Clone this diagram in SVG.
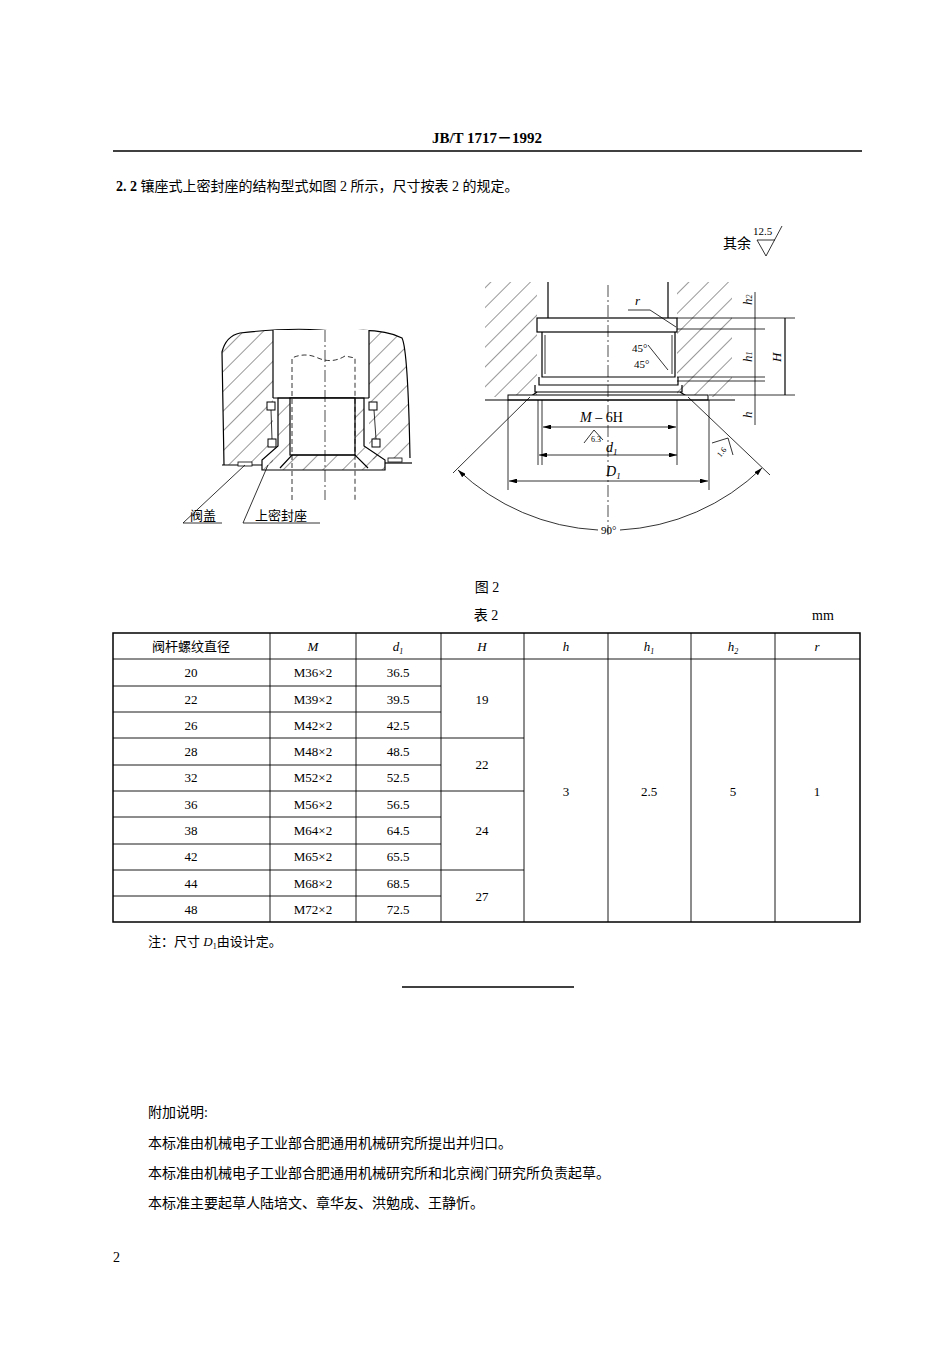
<svg xmlns="http://www.w3.org/2000/svg" width="950" height="1345" viewBox="0 0 950 1345">
<defs>
<pattern id="hatch" patternUnits="userSpaceOnUse" width="14" height="14" patternTransform="rotate(45)">
<line x1="0" y1="0" x2="0" y2="14" stroke="#000" stroke-width="0.8"/>
</pattern>
<marker id="ar" viewBox="0 0 10 6" refX="10" refY="3" markerWidth="10" markerHeight="6" orient="auto-start-reverse"><path d="M0,0L10,3L0,6z" fill="#000"/></marker>
</defs>
<style>
text{font-family:"Liberation Serif","Noto Sans CJK SC",serif;fill:#000}
.t{font-size:14px}
.s{font-size:13px}
.ln{stroke:#000;stroke-width:1.2;fill:none}
.th{stroke:#000;stroke-width:0.8;fill:none}
.d{stroke:#000;stroke-width:0.7;fill:none;stroke-dasharray:12 3 2 3}
.dash{stroke:#000;stroke-width:0.8;fill:none;stroke-dasharray:5 3}
</style>
<rect width="950" height="1345" fill="#fff"/>
<text x="487" y="143" text-anchor="middle" style="font-size:15px;font-weight:bold">JB/T  1717－1992</text>
<line x1="113" y1="151" x2="862" y2="151" stroke="#000" stroke-width="1.5"/>
<text x="116" y="191" class="t"><tspan font-weight="bold">2. 2</tspan>   镶座式上密封座的结构型式如图 2 所示，尺寸按表 2 的规定。</text>

<g id="left-drawing">
<path d="M224,465 L222,352 Q226,336 240,333 Q300,326 340,332 Q380,327 402,338 Q408,350 410,458" fill="url(#hatch)" stroke="#000" stroke-width="1.2"/>
<rect x="273" y="330" width="96" height="140" fill="#fff"/>
<path d="M262,470 L262,460 L278,446 L278,398 L364,398 L364,446 L385,460 L385,470 Z" fill="url(#hatch)" stroke="#000" stroke-width="1.2"/>
<rect x="290" y="398" width="65" height="57" fill="#fff" stroke="#000" stroke-width="1.2"/>
<path d="M280,468 L292,455 L355,455 L368,468" class="ln"/>
<line x1="273" y1="330" x2="273" y2="398" class="ln"/>
<line x1="369" y1="330" x2="369" y2="398" class="ln"/>
<line x1="273" y1="398" x2="369" y2="398" class="ln"/>
<path d="M292,500 L292,358 Q305,352 318,358 Q332,364 345,356 L355,358 L355,500" class="dash"/>
<line x1="325" y1="330" x2="325" y2="500" class="d"/>
<rect x="267" y="402" width="8" height="8" fill="#fff" stroke="#000"/>
<rect x="369" y="402" width="8" height="8" fill="#fff" stroke="#000"/>
<rect x="268" y="439" width="8" height="8" fill="#fff" stroke="#000"/>
<rect x="372" y="439" width="8" height="8" fill="#fff" stroke="#000"/>
<line x1="271" y1="410" x2="272" y2="439" class="th"/>
<line x1="374" y1="410" x2="376" y2="439" class="th"/>
<line x1="222" y1="465" x2="262" y2="465" class="ln"/>
<line x1="385" y1="463" x2="412" y2="463" class="ln"/>
<rect x="238" y="462" width="14" height="4" fill="#fff" stroke="#000" stroke-width="0.8"/>
<rect x="388" y="458" width="14" height="4" fill="#fff" stroke="#000" stroke-width="0.8"/>
<polyline points="245,465 183,523 222,523" class="th"/>
<polyline points="268,465 243,523 320,523" class="th"/>
<text x="190" y="520" class="s">阀盖</text>
<text x="255" y="520" class="s">上密封座</text>
</g>

<g id="right-drawing">
<text x="723" y="248" class="t">其余</text>
<polyline points="757,240 766,256 782,226" class="th"/>
<line x1="757" y1="240" x2="775" y2="240" class="th"/>
<text x="753" y="235" style="font-size:11px">12.5</text>
<rect x="485" y="282" width="52" height="115" fill="url(#hatch)"/>
<rect x="677" y="282" width="55" height="115" fill="url(#hatch)"/>
<rect x="537" y="282" width="11" height="36" fill="#fff"/>
<rect x="668" y="282" width="9" height="36" fill="#fff"/>
<rect x="537" y="318" width="140" height="79" fill="#fff"/>
<line x1="548" y1="282" x2="548" y2="318" class="ln"/>
<line x1="668" y1="282" x2="668" y2="318" class="ln"/>
<rect x="537" y="318" width="140" height="14" class="ln"/>
<path d="M542,332 L542,377 L675,377 L675,332" class="ln"/>
<line x1="545" y1="335" x2="545" y2="374" class="th"/>
<line x1="672" y1="335" x2="672" y2="374" class="th"/>
<path d="M539,377 L539,385 L678,385 L678,377" class="ln"/>
<path d="M535,385 L535,392 L682,392 L682,385" class="ln"/>
<line x1="537" y1="392" x2="530" y2="397" class="ln"/>
<line x1="680" y1="392" x2="688" y2="397" class="ln"/>
<rect x="508" y="395" width="200" height="5" fill="#fff" stroke="#000" stroke-width="1"/>
<line x1="485" y1="400" x2="735" y2="400" class="ln"/>
<line x1="608" y1="285" x2="608" y2="535" class="d"/>
<polyline points="628,310 650,310 676,327" class="th"/>
<text x="635" y="305" class="s" font-style="italic">r</text>
<line x1="648" y1="345" x2="668" y2="370" class="th"/>
<text x="632" y="352" style="font-size:11px">45°</text>
<text x="634" y="368" style="font-size:11px">45°</text>
<line x1="542" y1="400" x2="542" y2="465" class="th"/>
<line x1="677" y1="400" x2="677" y2="465" class="th"/>
<line x1="538" y1="400" x2="538" y2="465" class="th"/>
<line x1="508" y1="400" x2="508" y2="490" class="th"/>
<line x1="709" y1="400" x2="709" y2="490" class="th"/>
<line x1="543" y1="427" x2="676" y2="427" class="th" marker-start="url(#ar)" marker-end="url(#ar)"/>
<text x="580" y="422" class="t"><tspan font-style="italic">M</tspan> – 6H</text>
<polyline points="584,443 594,430 603,440" class="th"/>
<text x="591" y="442" style="font-size:8px">6.3</text>
<line x1="539" y1="455" x2="677" y2="455" class="th" marker-start="url(#ar)" marker-end="url(#ar)"/>
<text x="606" y="452" class="t" font-style="italic">d<tspan style="font-size:9px" dy="3">1</tspan></text>
<line x1="509" y1="481" x2="708" y2="481" class="th" marker-start="url(#ar)" marker-end="url(#ar)"/>
<text x="606" y="476" class="t" font-style="italic">D<tspan style="font-size:9px" dy="3">1</tspan></text>
<line x1="530" y1="397" x2="453" y2="473" class="th"/>
<line x1="688" y1="397" x2="770" y2="475" class="th"/>
<path d="M458,470 A220,220 0 0 0 598,530" class="th" marker-start="url(#ar)"/>
<path d="M620,530 A220,220 0 0 0 762,468" class="th" marker-end="url(#ar)"/>
<text x="601" y="534" style="font-size:11px">90°</text>
<polyline points="712,443 728,438 733,455" class="th"/>
<text x="716" y="456" style="font-size:8px" transform="rotate(-50 720 452)">1.6</text>
<line x1="677" y1="318" x2="795" y2="318" class="th"/>
<line x1="677" y1="329" x2="765" y2="329" class="th"/>
<line x1="677" y1="377" x2="765" y2="377" class="th"/>
<line x1="677" y1="381" x2="765" y2="381" class="th"/>
<line x1="709" y1="395" x2="795" y2="395" class="th"/>
<line x1="755" y1="292" x2="755" y2="425" class="th"/>
<line x1="785" y1="318" x2="785" y2="395" class="ln"/>
<text x="752" y="305" class="s" font-style="italic" transform="rotate(-90 752 305)">h<tspan style="font-size:8px">2</tspan></text>
<text x="752" y="362" class="s" font-style="italic" transform="rotate(-90 752 362)">h<tspan style="font-size:8px">1</tspan></text>
<text x="752" y="418" class="s" font-style="italic" transform="rotate(-90 752 418)">h</text>
<text x="781" y="362" class="s" font-style="italic" transform="rotate(-90 781 362)">H</text>
</g>

<text x="487" y="592" text-anchor="middle" class="t">图 2</text>
<text x="486" y="620" text-anchor="middle" class="t">表  2</text>
<text x="812" y="620" class="t">mm</text>

<g id="table" style="font-size:13px">
<rect x="113" y="633" width="747" height="289" fill="none" stroke="#000" stroke-width="1.5"/>
<g stroke="#000" stroke-width="0.9">
<line x1="270" y1="633" x2="270" y2="922"/><line x1="356" y1="633" x2="356" y2="922"/>
<line x1="441" y1="633" x2="441" y2="922"/><line x1="524" y1="633" x2="524" y2="922"/>
<line x1="608" y1="633" x2="608" y2="922"/><line x1="691" y1="633" x2="691" y2="922"/>
<line x1="775" y1="633" x2="775" y2="922"/>
<line x1="113" y1="659" x2="860" y2="659"/>
<line x1="113" y1="686" x2="441" y2="686"/><line x1="113" y1="712" x2="441" y2="712"/>
<line x1="113" y1="738" x2="524" y2="738"/><line x1="113" y1="765" x2="441" y2="765"/>
<line x1="113" y1="791" x2="524" y2="791"/><line x1="113" y1="817" x2="441" y2="817"/>
<line x1="113" y1="844" x2="441" y2="844"/><line x1="113" y1="870" x2="524" y2="870"/>
<line x1="113" y1="896" x2="441" y2="896"/>
</g>
<g text-anchor="middle">
<text x="191" y="651">阀杆螺纹直径</text>
<text x="313" y="651" font-style="italic">M</text>
<text x="398" y="651" font-style="italic">d<tspan style="font-size:8px" dy="3">1</tspan></text>
<text x="482" y="651" font-style="italic">H</text>
<text x="566" y="651" font-style="italic">h</text>
<text x="649" y="651" font-style="italic">h<tspan style="font-size:8px" dy="3">1</tspan></text>
<text x="733" y="651" font-style="italic">h<tspan style="font-size:8px" dy="3">2</tspan></text>
<text x="817" y="651" font-style="italic">r</text>
<text x="191" y="677">20</text><text x="313" y="677">M36×2</text><text x="398" y="677">36.5</text>
<text x="191" y="704">22</text><text x="313" y="704">M39×2</text><text x="398" y="704">39.5</text>
<text x="191" y="730">26</text><text x="313" y="730">M42×2</text><text x="398" y="730">42.5</text>
<text x="191" y="756">28</text><text x="313" y="756">M48×2</text><text x="398" y="756">48.5</text>
<text x="191" y="782">32</text><text x="313" y="782">M52×2</text><text x="398" y="782">52.5</text>
<text x="191" y="809">36</text><text x="313" y="809">M56×2</text><text x="398" y="809">56.5</text>
<text x="191" y="835">38</text><text x="313" y="835">M64×2</text><text x="398" y="835">64.5</text>
<text x="191" y="861">42</text><text x="313" y="861">M65×2</text><text x="398" y="861">65.5</text>
<text x="191" y="888">44</text><text x="313" y="888">M68×2</text><text x="398" y="888">68.5</text>
<text x="191" y="914">48</text><text x="313" y="914">M72×2</text><text x="398" y="914">72.5</text>
<text x="482" y="704">19</text><text x="482" y="769">22</text><text x="482" y="835">24</text><text x="482" y="901">27</text>
<text x="566" y="796">3</text><text x="649" y="796">2.5</text><text x="733" y="796">5</text><text x="817" y="796">1</text>
</g>
</g>
<text x="148" y="946" class="s">注：尺寸 <tspan font-style="italic">D</tspan><tspan style="font-size:8px" dy="3">1</tspan><tspan dy="-3">由设计定。</tspan></text>
<line x1="402" y1="987" x2="574" y2="987" stroke="#000" stroke-width="1.5"/>
<g class="t">
<text x="148" y="1117" class="t">附加说明:</text>
<text x="148" y="1148" class="t">本标准由机械电子工业部合肥通用机械研究所提出并归口。</text>
<text x="148" y="1178" class="t">本标准由机械电子工业部合肥通用机械研究所和北京阀门研究所负责起草。</text>
<text x="148" y="1208" class="t">本标准主要起草人陆培文、章华友、洪勉成、王静忻。</text>
</g>
<text x="113" y="1262" class="t">2</text>
</svg>
